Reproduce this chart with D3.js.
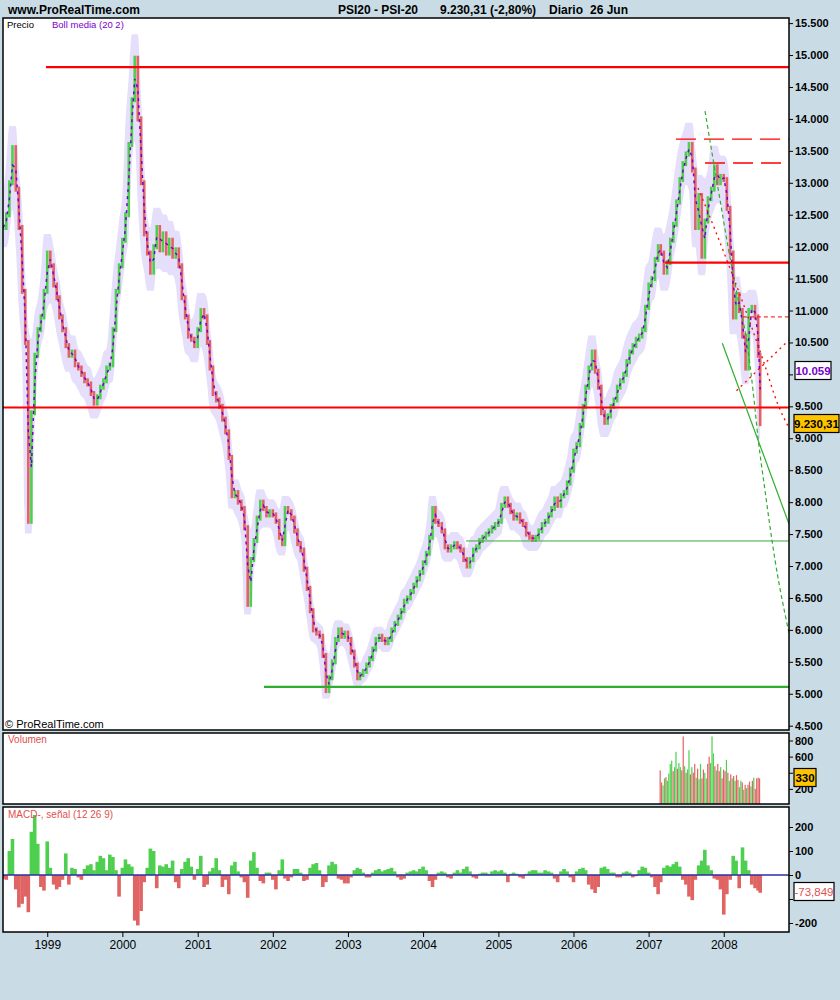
<!DOCTYPE html>
<html><head><meta charset="utf-8">
<script src="https://cdn.jsdelivr.net/npm/d3@7"></script>
<style>body{margin:0;background:#c9dce6}svg{display:block}</style>
</head><body><svg id="c" width="840" height="1000"></svg>
<script>
// ---------- DATA (semi-monthly closes, 1st & 16th of each month from 1998-06-01; last = 2008-06-26) ----------
const closes = [12300,12500,13000,13550,12900,12300,11300,10500,7700,9400,
10300,10700,10900,11300,11900,11700,11400,11200,10900,10700,
10450,10300,10350,10150,10100,10000,9900,9850,9700,9550,
9650,9800,9900,10100,10150,10700,11300,11700,12100,12500,
13600,14300,14950,14000,13000,12200,11900,11600,12000,12300,
11950,12200,11900,12100,11850,11950,11700,11200,10900,10600,
10550,10450,10700,11000,10900,10500,10100,9700,9600,9500,
9300,9100,8700,8100,8150,8000,7900,7600,6400,7100,
7400,7750,8000,7900,7800,7850,7800,7700,7450,7350,
7900,7850,7750,7550,7350,7250,6950,6650,6300,6000,
5950,5900,5600,5050,5250,5500,5850,6000,5900,5950,
5850,5650,5450,5250,5300,5350,5450,5550,5700,5850,
5900,5850,5800,5850,6000,6100,6200,6300,6450,6500,
6600,6700,6800,6900,7050,7200,7450,7900,7700,7650,
7550,7300,7250,7300,7350,7300,7250,7100,7000,7100,
7250,7300,7400,7450,7500,7550,7600,7650,7700,7950,
8050,7950,7850,7750,7800,7700,7650,7500,7450,7420,
7450,7550,7650,7700,7800,7900,8050,7950,8100,8150,
8300,8500,8800,8900,9200,9500,9800,10100,10350,10050,
9800,9400,9250,9350,9500,9600,9800,9900,10000,10200,
10350,10450,10550,10600,10700,11050,11400,11500,11800,12000,
11900,11600,11750,12100,12350,12700,13050,13300,13450,13600,
13200,12300,12800,11850,12400,12750,12900,13250,13000,13100,
13050,12600,11900,10900,11250,11000,10600,10100,11000,11050,
10900,10300,9230];
const macdHist = [-15,-20,100,150,-60,-135,-120,-90,-155,180,
250,130,-50,-65,140,30,-40,-60,-50,-20,
90,-40,30,25,-10,-20,25,40,45,20,
55,80,70,20,85,75,20,-90,30,65,
45,35,-190,-210,-150,-30,30,110,100,-55,
40,35,45,30,60,-30,-55,25,55,70,
35,-20,25,80,-50,-40,15,30,70,20,
-50,-20,-80,40,55,15,-10,-30,-95,60,
95,30,-25,-35,10,10,-20,-60,20,65,
-15,-25,-10,25,25,10,-25,-20,30,45,
50,20,-50,-30,40,55,45,-15,-20,-35,
-35,-10,20,30,25,10,-10,-10,10,20,
25,15,20,25,30,15,-10,-20,-15,10,
15,20,15,25,35,20,-25,-50,-20,10,
15,10,-10,-15,10,20,10,25,35,15,
-10,-15,5,10,10,5,15,20,15,20,
10,-30,5,10,5,-10,-15,5,15,20,
20,10,10,20,15,10,-15,-30,15,25,
15,-10,-30,15,25,30,20,-40,-60,-75,
-50,30,35,25,10,10,-10,-10,10,15,
10,-10,-5,20,35,30,10,-10,-50,-80,
-30,30,40,35,45,55,35,-20,-40,-90,
-105,-20,40,60,105,40,20,-15,-20,-60,
-165,-80,-20,80,60,-55,115,60,20,-40,
-55,-65,-74];
// weekly volume from 2007-02-26
const volume = [430,280,240,330,345,300,390,510,550,420,470,660,450,520,470,430,850,480,400,440,
680,380,470,400,510,340,450,320,510,330,440,400,330,510,600,520,850,640,480,430,
510,420,470,330,440,420,560,400,300,380,330,360,300,370,310,220,300,280,190,250,
210,250,290,230,300,340,200,330,340,330];
const volDir = "rrggrggggrggrggrrgrggrgrrgrggrrggrrgggrgrrgrrrgrgrgrgrrggrgrgrrgrgrrrr".split("");
const priceTicks = [4500,5000,5500,6000,6500,7000,7500,8000,8500,9000,9500,10000,10500,11000,11500,12000,12500,13000,13500,14000,14500,15000,15500];
const volTicks = [200,400,600,800];
const macdTicks = [-200,-100,0,100,200];
const hiddenTickLabels = [10000,400,-100]; // covered by value boxes in the reference
const lastLabel = "9.230,31", bollLabel = "10.059", volLabel = "330", macdLabel = "-73,849";
// support / resistance & trend lines
const redLevels = [{v:14810, from:"1998-12-26"},{v:11750, from:"2007-03-22"},{v:9482, from:"1998-05-31"}];
const redDashLevels = [{v:13685, from:"2007-05-14"},{v:13310, from:"2007-10-02"}];
const redShortDashLevel = {v:10900, from:"2008-04-03"};
const redDotDown = [["2007-08-29",12918],["2007-11-20",12260],["2008-02-09",11587],["2008-04-28",10899],["2008-07-10",10225],["2008-09-21",9521],["2008-11-13",9161]];
const redDotUp = [["2008-03-03",9745],["2008-11-13",10539]];
const greenDash = [["2007-10-02",14123],["2007-11-05",13466],["2007-12-14",12730],["2008-01-22",11994],["2008-03-05",11274],["2008-04-23",10491],["2008-05-22",9756],["2008-06-15",9020],["2008-07-19",8190],["2008-09-06",7095],["2008-11-13",5952]];
const greenSolid = [["2007-12-25",10487],["2008-11-13",7658]];
const greenThin = {v:7392, from:"2004-07-28"};
const greenThick = {v:5107, from:"2001-11-19"};

// ---------- SETUP ----------
const svg = d3.select("#c");
const BG="#c9dce6", GREEN="#4fcf4f", RED="#e06464", LAV="#e6dffb", PURP="#7a00cc";
const X0=3, X1=789;
const P={top:18,bottom:730}, V={top:733,bottom:804}, M={top:807,bottom:932};
const pd = d3.timeParse("%Y-%m-%d");
const x = d3.scaleTime().domain([new Date(1998,4,31), new Date(2008,10,13)]).range([X0,X1]);
const y = d3.scaleLinear().domain([4500,15500]).range([725.7,23.1]);
const yv = d3.scaleLinear().domain([0,800]).range([805,740.5]);
const ym = d3.scaleLinear().domain([-200,200]).range([923,827]);
const loc = d3.formatLocale({decimal:",",thousands:".",grouping:[3],currency:["",""],minus:"-"});
const fmt0 = loc.format(",d");
const fmt = v => hiddenTickLabels.includes(v) ? "" : fmt0(v);
const dates = closes.map((c,i)=> i<closes.length-1 ? new Date(1998,5+(i>>1),(i%2)?16:1) : new Date(2008,5,26));
const volDates = volume.map((v,k)=> d3.timeWeek.offset(new Date(2007,1,26),k));
const FONT = "'Liberation Sans', Arial, sans-serif";

svg.append("rect").attr("width",840).attr("height",1000).attr("fill",BG);
const defs = svg.append("defs");
[["cp",P],["cv",V],["cm",M]].forEach(([id,p])=>{
  defs.append("clipPath").attr("id",id).append("rect").attr("x",X0).attr("y",p.top).attr("width",X1-X0).attr("height",p.bottom-p.top);
});
[P,V,M].forEach(p=> svg.append("rect").attr("x",X0).attr("y",p.top).attr("width",X1-X0).attr("height",p.bottom-p.top).attr("fill","#fff"));

// ---------- PRICE PANEL ----------
const gp = svg.append("g").attr("clip-path","url(#cp)");
const band = closes.map((c,i)=>{
  const w = closes.slice(Math.max(0,i-1), Math.min(closes.length,i+2));
  return {d:dates[i], hi:d3.max(w)*1.025, lo:d3.min(w)*0.975};
});
gp.append("path").datum(band).attr("fill",LAV)
  .attr("d", d3.area().x(d=>x(d.d)).y0(d=>y(d.lo)).y1(d=>y(d.hi)).curve(d3.curveMonotoneX));
const media = closes.map((c,i)=>({d:dates[i], v: i? (c+closes[i-1])/2 : c}));
gp.selectAll("rect.bar").data(closes).join("rect").attr("class","bar")
  .attr("x",(c,i)=>x(dates[i])-1.3).attr("width",2.6)
  .attr("y",(c,i)=> y(Math.max(c, i? closes[i-1]:c))-2.5)
  .attr("height",(c,i)=> Math.abs(y(c)-y(i? closes[i-1]:c))+5)
  .attr("fill",(c,i)=> (i===0 || c>=closes[i-1]) ? GREEN : RED);
gp.append("path").datum(media).attr("fill","none").attr("stroke",PURP).attr("stroke-width",1.5)
  .attr("stroke-dasharray","3,4").attr("d", d3.line().x(d=>x(d.d)).y(d=>y(d.v)));

function hline(g, lv, color, w, dash){
  const l = g.append("line").attr("x1",x(pd(lv.from))).attr("x2",X1).attr("y1",y(lv.v)).attr("y2",y(lv.v))
    .attr("stroke",color).attr("stroke-width",w);
  if(dash) l.attr("stroke-dasharray",dash);
}
function pline(g, pts, color, w, dash){
  const p = g.append("path").datum(pts).attr("fill","none").attr("stroke",color).attr("stroke-width",w)
    .attr("d", d3.line().x(d=>x(pd(d[0]))).y(d=>y(d[1])).curve(d3.curveMonotoneX));
  if(dash) p.attr("stroke-dasharray",dash);
}
hline(gp, greenThin, "#3aa63a", 1);
hline(gp, greenThick, "#2fae2f", 2.2);
redLevels.forEach(l=>hline(gp,l,"#ff0000",2.2));
redDashLevels.forEach(l=>hline(gp,l,"#ff0000",1.3,"20,8"));
hline(gp, redShortDashLevel, "#ff0000", 1, "4,3");
pline(gp, greenSolid, "#2fae2f", 1.2);
pline(gp, greenDash, "#2fae2f", 1.2, "4,3");
pline(gp, redDotDown, "#ff0000", 1.3, "2,4");
pline(gp, redDotUp, "#ff0000", 1.3, "2,4");

// ---------- VOLUME PANEL ----------
const gv = svg.append("g").attr("clip-path","url(#cv)");
gv.selectAll("rect").data(volume).join("rect")
  .attr("x",(v,k)=>x(volDates[k])-0.6).attr("width",1.2)
  .attr("y",v=>yv(v)).attr("height",v=>yv(0)-yv(v))
  .attr("fill",(v,k)=> volDir[k]==="g"?GREEN:RED);

// ---------- MACD PANEL ----------
const gm = svg.append("g").attr("clip-path","url(#cm)");
gm.selectAll("rect").data(macdHist).join("rect")
  .attr("x",(v,i)=>x(dates[i])-1.8).attr("width",3.6)
  .attr("y",v=>ym(Math.max(0,v))).attr("height",v=>Math.abs(ym(v)-ym(0)))
  .attr("fill",v=> v>=0?GREEN:RED);
gm.append("line").attr("x1",X0).attr("x2",X1).attr("y1",ym(0)).attr("y2",ym(0)).attr("stroke","#2c2ca8").attr("stroke-width",1.5);

// panel borders
[P,V,M].forEach(p=> svg.append("rect").attr("x",X0).attr("y",p.top).attr("width",X1-X0).attr("height",p.bottom-p.top)
  .attr("fill","none").attr("stroke","#000").attr("stroke-width",1.5));

// ---------- AXES ----------
function styleAxis(g, size, weight){
  g.select(".domain").remove();
  g.selectAll("text").attr("font-family",FONT).attr("font-size",size).attr("font-weight",weight).attr("fill","#000");
  g.selectAll("line").attr("stroke","#000");
}
styleAxis(svg.append("g").attr("transform",`translate(${X1},0)`)
  .call(d3.axisRight(y).tickValues(priceTicks).tickSize(4).tickPadding(2).tickFormat(fmt)), 11, "bold");
styleAxis(svg.append("g").attr("transform",`translate(${X1},0)`)
  .call(d3.axisRight(yv).tickValues(volTicks).tickSize(4).tickPadding(2).tickFormat(fmt)), 11, "bold");
styleAxis(svg.append("g").attr("transform",`translate(${X1},0)`)
  .call(d3.axisRight(ym).tickValues(macdTicks).tickSize(4).tickPadding(2).tickFormat(fmt)), 11, "bold");
const yearTicks = d3.range(1999,2009).map(yr=>new Date(yr,0,1));
styleAxis(svg.append("g").attr("transform",`translate(0,${M.bottom})`)
  .call(d3.axisBottom(x).tickValues(yearTicks).tickSize(5).tickPadding(3).tickFormat(d3.timeFormat("%Y"))), 12, "normal");

// value boxes
function box(xp, yc, w, text, fill, color, weight){
  svg.append("rect").attr("x",xp).attr("y",yc-9).attr("width",w).attr("height",18).attr("fill",fill).attr("stroke","#000").attr("stroke-width",1.2);
  svg.append("text").attr("x",xp+w/2).attr("y",yc+4).attr("text-anchor","middle").attr("font-family",FONT)
    .attr("font-size",11.5).attr("font-weight",weight).attr("fill",color).text(text);
}
box(795, 370.5, 36, bollLabel, "#fff", PURP, "bold");
box(794, 423.5, 45, lastLabel, "#ffc400", "#000", "bold");
box(794, 777.5, 22, volLabel, "#ffc400", "#000", "bold");
box(794, 891.5, 40, macdLabel, "#fff", "#e05050", "normal");

// ---------- TEXTS ----------
const T = (xp,yp,txt,size,weight,color)=> svg.append("text").attr("x",xp).attr("y",yp).attr("font-family",FONT)
  .attr("font-size",size).attr("font-weight",weight).attr("fill",color).text(txt);
T(8,14,"www.ProRealTime.com",12,"bold","#000");
T(338,14,"PSI20 - PSI-20",12,"bold","#000");
T(440,14,"9.230,31 (-2,80%)",12,"bold","#000");
T(549,14,"Diario",12,"bold","#000");
T(590,14,"26 Jun",12,"bold","#000");
T(7,28,"Precio",9.5,"normal","#000");
T(52,28,"Boll media (20 2)",9.5,"normal",PURP);
T(5,728,"© ProRealTime.com",11,"normal","#000");
T(8,743,"Volumen",10,"normal","#e05050");
T(8,818,"MACD-, señal (12 26 9)",10,"normal","#e05050");
</script></body></html>
